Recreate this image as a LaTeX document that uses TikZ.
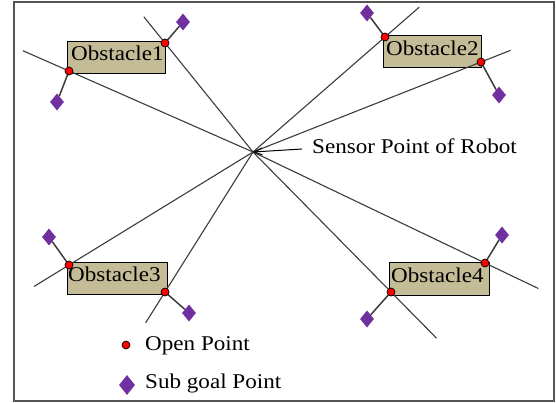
\documentclass[tikz,border=0pt]{standalone}
\usepackage{fontspec}
\usepackage{graphicx}
\setmainfont{Liberation Serif}
\usetikzlibrary{arrows.meta,calc,shapes.geometric}

\definecolor{raycol}{HTML}{3C3C3C}
\definecolor{boxfill}{HTML}{C4BC96}
\definecolor{subgoal}{HTML}{7030A0}
\definecolor{framecol}{HTML}{555555}

\newcommand{\lbl}[1]{\scalebox{1.1}[1]{#1}}

\tikzset{
  ray/.style={draw=raycol, line width=1.1pt},
  link/.style={draw=raycol, line width=1.5pt},
  obsbox/.style={draw=black, line width=1.4pt, fill=boxfill, rectangle,
    minimum width=98pt, minimum height=32pt, inner sep=0pt, anchor=north west},
  obstext/.style={anchor=west, inner sep=0pt, font=\fontsize{21}{21}\selectfont},
  openpt/.style={circle, fill=red, draw=black, line width=0.7pt,
    minimum size=8pt, inner sep=0pt},
  subpt/.style={diamond, fill=subgoal, draw=none, inner sep=0pt,
    minimum width=14pt, minimum height=17pt},
  legtext/.style={anchor=base west, inner sep=0pt, font=\fontsize{21}{21}\selectfont},
}

\begin{document}
\begin{tikzpicture}[x=1pt, y=-1pt]
  \useasboundingbox (0,0) rectangle (556,403);
  \fill[white] (0,0) rectangle (556,403);
  \draw[framecol, line width=1.5pt] (14,2) rectangle (554,401);

  % sensor point of the robot
  \coordinate (c) at (253,152);

  % obstacle boxes with their labels
  \node[obsbox] (o1) at (67,41) {};
  \node[obstext] (o1t) at ([xshift=4pt,yshift=4pt]o1.west) {\lbl{Obstacle1}};
  \node[obsbox] (o2) at (383,35) {};
  \node[obstext] (o2t) at ([xshift=3pt,yshift=3pt]o2.west) {\lbl{Obstacle2}};
  \node[obsbox, minimum width=100pt] (o3) at (67,262) {};
  \node[obstext] (o3t) at ([xshift=1pt,yshift=4pt]o3.west) {\lbl{Obstacle3}};
  \node[obsbox, minimum width=100pt, minimum height=33pt] (o4) at (389,262) {};
  \node[obstext] (o4t) at ([xshift=2pt,yshift=4pt]o4.west) {\lbl{Obstacle4}};

  % open points at the obstacle corners
  \coordinate (p1a) at (69,71);
  \coordinate (p1b) at (165,43);
  \coordinate (p2a) at (385,37);
  \coordinate (p2b) at (481,62);
  \coordinate (p3a) at (69,265);
  \coordinate (p3b) at (165,292);
  \coordinate (p4a) at (391,292);
  \coordinate (p4b) at (485,263);

  % sensor rays through the open points
  \coordinate (e1a) at ($(c)!1.25!(p1a)$);
  \coordinate (e1b) at ($(c)!1.24!(p1b)$);
  \coordinate (e2a) at ($(c)!1.26!(p2a)$);
  \coordinate (e2b) at ($(c)!1.13!(p2b)$);
  \coordinate (e3a) at ($(c)!1.19!(p3a)$);
  \coordinate (e3b) at ($(c)!1.22!(p3b)$);
  \coordinate (e4a) at ($(c)!1.33!(p4a)$);
  \coordinate (e4b) at ($(c)!1.23!(p4b)$);
  \foreach \e in {e1a,e1b,e2a,e2b,e3a,e3b,e4a,e4b}
    \draw[ray] (c) -- (\e);

  % sub goal points
  \node[subpt] (s1a) at (57,102) {};
  \node[subpt] (s1b) at (183,22) {};
  \node[subpt] (s2a) at (367,13) {};
  \node[subpt] (s2b) at (499,95) {};
  \node[subpt] (s3a) at (49,237) {};
  \node[subpt] (s3b) at (189,313) {};
  \node[subpt] (s4a) at (367,319) {};
  \node[subpt] (s4b) at (502,235) {};
  \foreach \p/\s in {p1a/s1a,p1b/s1b,p2a/s2a,p2b/s2b,p3a/s3a,p3b/s3b,p4a/s4a,p4b/s4b}
    \draw[link] (\p) -- (\s);

  \foreach \p in {p1a,p1b,p2a,p2b,p3a,p3b,p4a,p4b}
    \node[openpt] (n\p) at (\p) {};

  % sensor label with its pointer
  \node[legtext, anchor=west] (sl) at (312,146) {\lbl{Sensor Point of Robot}};
  \coordinate (st) at (302,149);
  \draw[black, line width=1pt, -{Straight Barb[length=8pt,width=7pt]}] (st) -- (c);

  % legend
  \node[openpt] (lo) at (126,345) {};
  \node[legtext] (lot) at (145,350) {\lbl{Open Point}};
  \node[subpt, minimum width=16pt, minimum height=20pt] (ls) at (127,385) {};
  \node[legtext] (lst) at (145,388) {\lbl{Sub goal Point}};
\end{tikzpicture}
\end{document}
